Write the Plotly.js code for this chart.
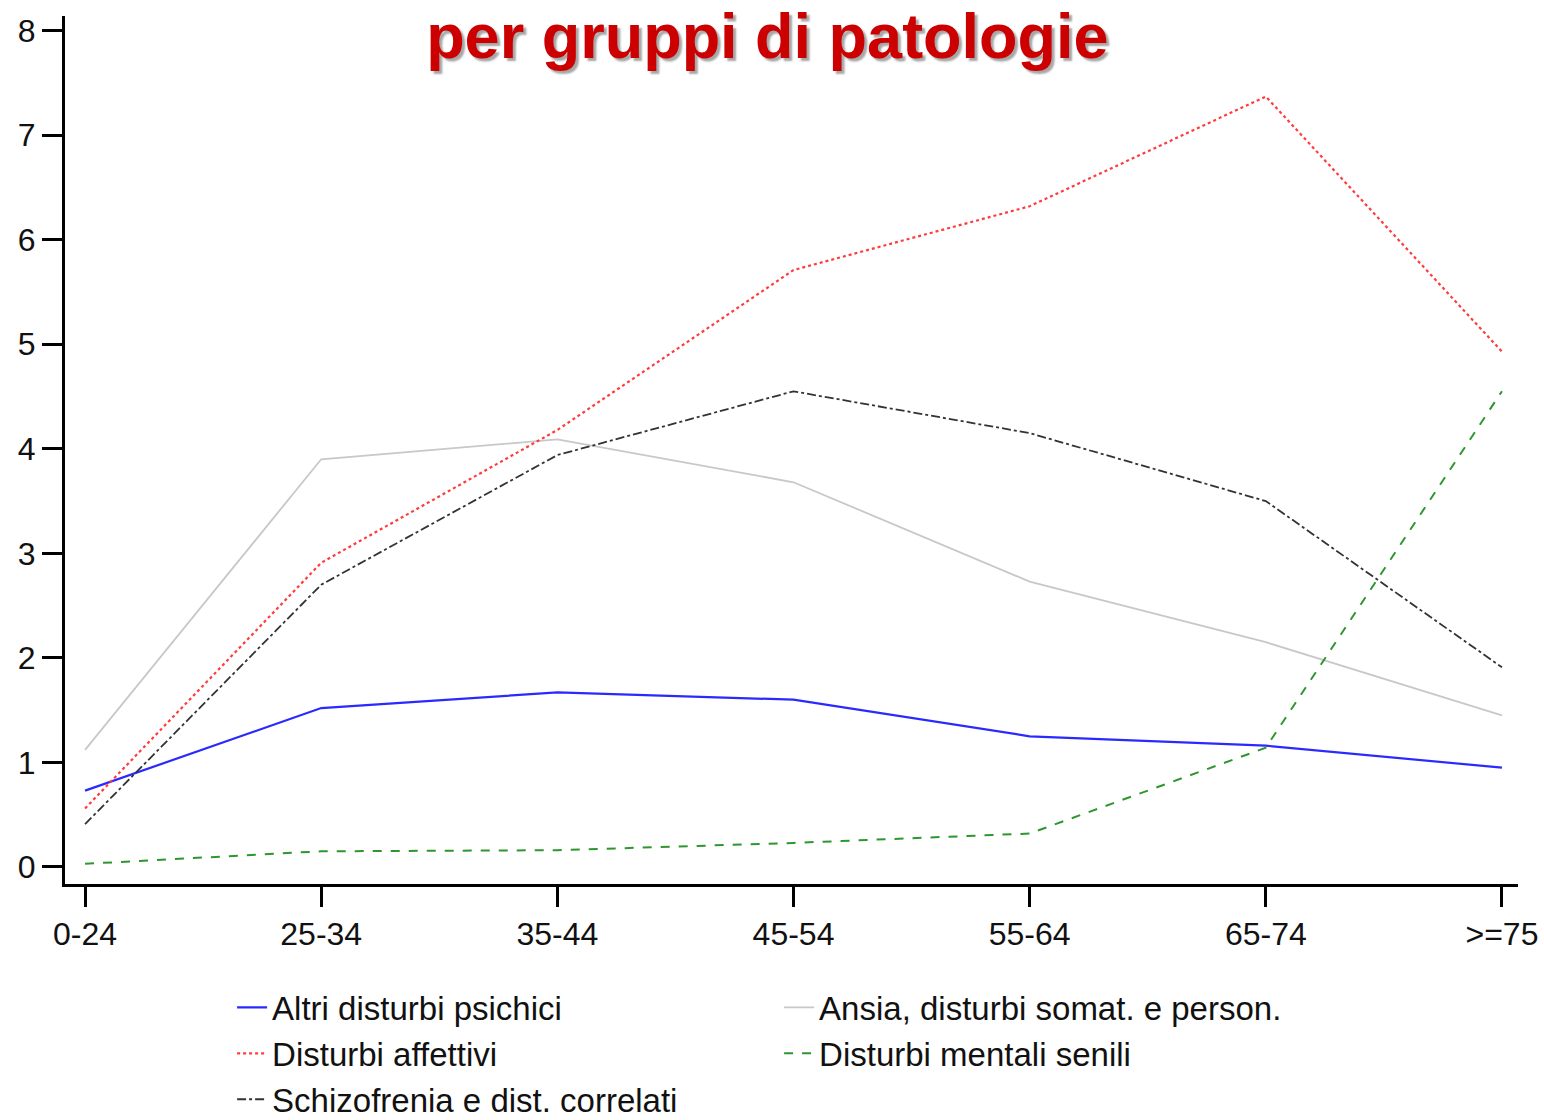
<!DOCTYPE html>
<html>
<head>
<meta charset="utf-8">
<script src="https://cdn.plot.ly/plotly-3.0.1.min.js"></script>
<style>html,body{margin:0;padding:0;background:#fff;}#chart{width:1544px;height:1120px;}</style>
</head>
<body>
<div id="chart"></div>
<script>
const categories = ["0-24", "25-34", "35-44", "45-54", "55-64", "65-74", ">=75"];
const seriesNames = [
  "Altri disturbi psichici",
  "Ansia, disturbi somat. e person.",
  "Disturbi affettivi",
  "Disturbi mentali senili",
  "Schizofrenia e dist. correlati"
];
const altriDisturbi = [0.73, 1.52, 1.67, 1.60, 1.25, 1.16, 0.95];
const ansia = [1.12, 3.90, 4.09, 3.68, 2.73, 2.15, 1.45];
const affettivi = [0.56, 2.91, 4.18, 5.71, 6.32, 7.37, 4.93];
const senili = [0.03, 0.15, 0.16, 0.23, 0.32, 1.14, 4.55];
const schizofrenia = [0.41, 2.70, 3.94, 4.55, 4.15, 3.50, 1.91];
const yTicks = [0, 1, 2, 3, 4, 5, 6, 7, 8];

const styles = [
  {color: "#2a2aff", width: 2.2, dash: "solid"},
  {color: "#c8c8c8", width: 1.8, dash: "solid"},
  {color: "#ff3b3b", width: 2.2, dash: "dot"},
  {color: "#2e962e", width: 2, dash: "dash"},
  {color: "#333333", width: 1.8, dash: "dashdot"}
];
const values = [altriDisturbi, ansia, affettivi, senili, schizofrenia];

const traces = values.map((v, i) => ({
  type: "scatter",
  mode: "lines",
  x: categories,
  y: v,
  name: seriesNames[i],
  line: styles[i]
}));

const tickFont = {family: "Liberation Sans, Arial, sans-serif", size: 32, color: "#111"};

const layout = {
  width: 1544,
  height: 1120,
  paper_bgcolor: "#fff",
  plot_bgcolor: "#fff",
  margin: {l: 65, r: 26, t: 16, b: 236, autoexpand: false},
  title: {
    text: "per gruppi di patologie",
    x: 0.497, xanchor: "center",
    y: 0.968, yanchor: "middle", yref: "container",
    font: {family: "Liberation Sans, Arial, sans-serif", size: 63, color: "#cc0000", weight: "bold", shadow: "3px 3px 2px rgba(0,0,0,0.35)"}
  },
  xaxis: {
    type: "category",
    range: [-0.085, 6.068],
    showline: true, linecolor: "#000", linewidth: 3,
    ticks: "outside", ticklen: 20, tickwidth: 3, tickcolor: "#000",
    showgrid: false, zeroline: false,
    tickfont: tickFont
  },
  yaxis: {
    range: [-0.163, 8.14],
    tickvals: yTicks,
    showline: true, linecolor: "#000", linewidth: 3,
    ticks: "outside", ticklen: 20, tickwidth: 3, tickcolor: "#000",
    showgrid: false, zeroline: false,
    tickfont: tickFont
  },
  showlegend: true,
  legend: {
    orientation: "h",
    x: 0.115, xanchor: "left",
    y: -0.11, yanchor: "top",
    entrywidth: 502,
    font: {family: "Liberation Sans, Arial, sans-serif", size: 33, color: "#111"},
    traceorder: "normal",
    bgcolor: "rgba(0,0,0,0)"
  }
};

Plotly.newPlot("chart", traces, layout, {displayModeBar: false, staticPlot: true});
</script>
</body>
</html>
